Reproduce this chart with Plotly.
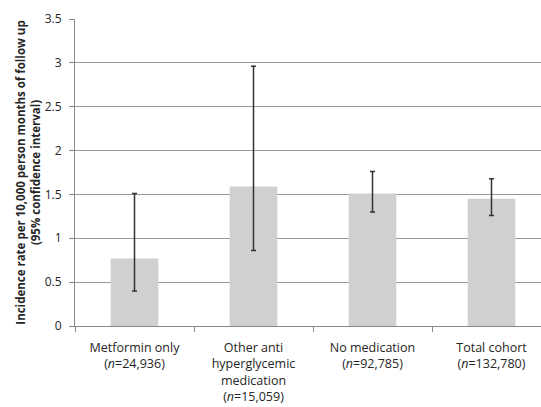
import plotly.graph_objects as go

categories = ["Metformin only", "Other anti hyperglycemic medication", "No medication", "Total cohort"]
tick_labels = [
    "Metformin only<br>(<i>n</i>=24,936)",
    "Other anti<br>hyperglycemic<br>medication<br>(<i>n</i>=15,059)",
    "No medication<br>(<i>n</i>=92,785)",
    "Total cohort<br>(<i>n</i>=132,780)",
]
rates = [0.77, 1.59, 1.51, 1.45]
ci_upper = [1.51, 2.96, 1.76, 1.68]
ci_lower = [0.40, 0.86, 1.30, 1.26]

err_plus = [u - v for u, v in zip(ci_upper, rates)]
err_minus = [v - l for v, l in zip(rates, ci_lower)]

font_family = "Open Sans, Noto Sans, sans-serif"

fig = go.Figure(
    go.Bar(
        x=categories,
        y=rates,
        width=0.40,
        marker=dict(color="#d0d0d0", line=dict(width=0)),
        error_y=dict(
            type="data",
            symmetric=False,
            array=err_plus,
            arrayminus=err_minus,
            color="#333333",
            thickness=1.5,
            width=2.5,
        ),
    )
)

fig.update_layout(
    width=541,
    height=407,
    margin=dict(l=75, r=0, t=19, b=81),
    paper_bgcolor="white",
    plot_bgcolor="white",
    showlegend=False,
    font=dict(family=font_family, size=12, color="#262626"),
)

fig.update_xaxes(
    range=[-0.5, 3.416],
    tickmode="array",
    tickvals=categories,
    ticktext=tick_labels,
    tickson="boundaries",
    ticks="outside",
    ticklen=5,
    tickcolor="#888888",
    showline=True,
    linecolor="#888888",
    linewidth=1,
    showgrid=False,
    tickangle=0,
    ticklabelstandoff=10,
    automargin=False,
    tickfont=dict(size=12.5, color="#262626"),
)

fig.update_yaxes(
    range=[0, 3.5],
    dtick=0.5,
    tickformat="~g",
    ticks="outside",
    ticklen=5,
    tickcolor="#888888",
    showline=True,
    linecolor="#8a8a8a",
    linewidth=1,
    showgrid=True,
    gridcolor="#9a9a9a",
    gridwidth=1.2,
    zeroline=False,
    ticklabelstandoff=5,
    automargin=False,
    tickfont=dict(size=12, color="#262626"),
    title=dict(
        text="<b>Incidence rate per 10,000 person months of follow up<br>(95% confidence interval)</b>",
        font=dict(size=11.5, color="#262626"),
        standoff=1,
    ),
)

fig.write_html(
    "out.html",
    config={"displayModeBar": False},
    post_script="document.body.style.margin='0';document.body.style.overflow='hidden';",
)
